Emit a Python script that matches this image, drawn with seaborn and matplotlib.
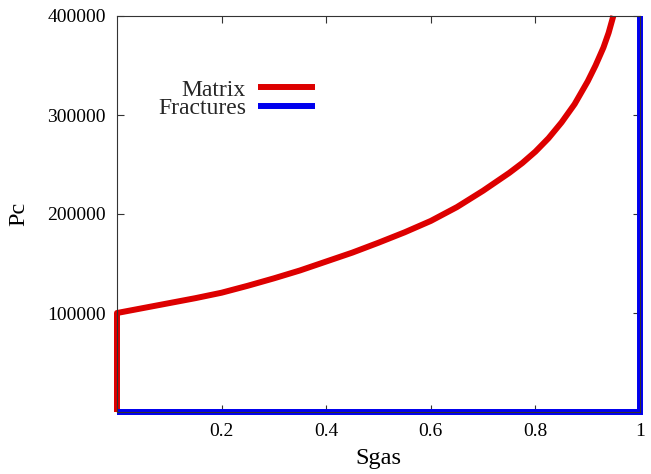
import matplotlib
matplotlib.use("Agg")
import matplotlib.pyplot as plt
import seaborn as sns
import pandas as pd

# ---- data ----
matrix_sg = [0.0, 0.0, 0.05, 0.10, 0.15, 0.20, 0.25, 0.30, 0.35, 0.40, 0.45,
             0.50, 0.55, 0.60, 0.65, 0.70, 0.75, 0.775, 0.80, 0.825, 0.85,
             0.875, 0.90, 0.915, 0.93, 0.94, 0.949]
matrix_pc = [0, 100000, 105000, 110000, 115000, 120500, 127500, 135000,
             143000, 152000, 161000, 171000, 181500, 193000, 207000, 223500,
             241500, 251500, 263000, 276500, 292500, 311000, 334000, 350000,
             368000, 383000, 400000]
fract_sg = [0.0, 1.0, 1.0]
fract_pc = [0, 0, 400000]

x_ticks = [0.2, 0.4, 0.6, 0.8, 1.0]
x_tick_labels = ["0.2", "0.4", "0.6", "0.8", "1"]
y_ticks = [100000, 200000, 300000, 400000]
y_tick_labels = ["100000", "200000", "300000", "400000"]

sns.set_theme(style="ticks")
plt.rcParams["font.family"] = ["Liberation Serif", "DejaVu Serif"]

fig = plt.figure(figsize=(6.51, 4.74), dpi=100)
ax = fig.add_axes([117 / 651, 1 - 412 / 474, (640 - 117) / 651, (412 - 16) / 474])

red = "#dd0000"
blue = "#0000ee"
lw = 4.3

df_m = pd.DataFrame({"Sgas": matrix_sg, "Pc": matrix_pc})
df_f = pd.DataFrame({"Sgas": fract_sg, "Pc": fract_pc})

sns.lineplot(data=df_m, x="Sgas", y="Pc", sort=False, estimator=None,
             color=red, lw=lw, ax=ax, label="Matrix", clip_on=False,
             solid_joinstyle="round", solid_capstyle="butt")
sns.lineplot(data=df_f, x="Sgas", y="Pc", sort=False, estimator=None,
             color=blue, lw=lw, ax=ax, label="Fractures", clip_on=False,
             solid_joinstyle="miter", solid_capstyle="butt")

ax.set_xlim(0, 1)
ax.set_ylim(0, 400000)
ax.set_xticks(x_ticks)
ax.set_xticklabels(x_tick_labels)
ax.set_yticks(y_ticks)
ax.set_yticklabels(y_tick_labels)

for s in ax.spines.values():
    s.set_visible(True)
    s.set_color("#333333")
    s.set_linewidth(0.8)
    s.set_zorder(3)

ax.tick_params(direction="in", length=5, width=0.8, color="#333333",
               top=True, right=True, labelsize=14, pad=8, labelcolor="black")

ax.set_xlabel("Sgas", fontsize=17.5, labelpad=6, color="black")
ax.set_ylabel("Pc", fontsize=17.5, labelpad=13, color="black")

handles, labels = ax.get_legend_handles_labels()
leg = ax.legend(handles, labels, loc="upper right",
                bbox_to_anchor=(315 / 651, 1 - 79 / 474),
                bbox_transform=fig.transFigure, frameon=False,
                markerfirst=False, alignment="right", borderpad=0,
                borderaxespad=0, handlelength=2.42, handletextpad=0.5,
                labelspacing=-0.12, fontsize=17)
for h in leg.get_lines():
    h.set_linewidth(lw)

fig.savefig("out.png", dpi=100)
